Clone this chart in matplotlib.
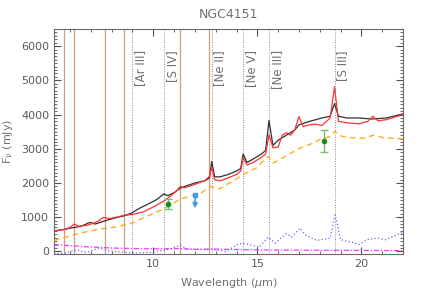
import matplotlib
matplotlib.use("Agg")
import matplotlib.pyplot as plt
from matplotlib.ticker import MultipleLocator

# ---------------- data ----------------
obs_w = [5.23, 5.5, 5.7, 6.0, 6.2, 6.5, 6.96, 7.2, 7.5, 7.84, 8.0, 8.3, 8.6, 8.96, 9.3, 9.6, 9.9,
         10.2, 10.5, 10.7, 11.0, 11.3, 11.6, 12.0, 12.5, 12.7, 12.81, 12.95, 13.2, 13.6, 14.0,
         14.2, 14.32, 14.5, 14.8, 15.2, 15.4, 15.56, 15.75, 16.0, 16.4, 16.8, 17.0, 17.5, 18.1,
         18.5, 18.71, 18.9, 19.3, 19.9, 20.5, 21.2, 22.0]
obs_f = [600, 620, 640, 680, 700, 730, 850, 800, 860, 925, 950, 1000, 1040, 1120, 1250, 1340, 1430,
         1530, 1680, 1630, 1720, 1850, 1920, 2000, 2070, 2150, 2630, 2180, 2180, 2250, 2350,
         2420, 2850, 2600, 2700, 2850, 2950, 3830, 3100, 3250, 3400, 3550, 3700, 3800, 3900,
         3950, 4320, 3950, 3900, 3900, 3870, 3900, 4020]

mod_w = [5.23, 5.7, 6.0, 6.2, 6.4, 6.8, 7.1, 7.4, 7.6, 7.9, 8.3, 8.6, 9.0, 9.5, 10.0, 10.5, 10.8,
         11.1, 11.3, 11.5, 12.0, 12.5, 12.7, 12.81, 12.95, 13.2, 13.6, 14.0, 14.2, 14.32, 14.5,
         14.8, 15.2, 15.4, 15.56, 15.75, 16.0, 16.2, 16.4, 16.6, 16.8, 17.0, 17.2, 17.5, 17.8,
         18.1, 18.5, 18.71, 18.9, 19.3, 19.9, 20.3, 20.55, 20.8, 21.2, 22.0]
mod_f = [600, 640, 700, 800, 740, 760, 820, 900, 995, 960, 1010, 1060, 1080, 1150, 1300, 1470, 1600,
         1760, 1900, 1860, 1960, 2080, 2200, 2450, 2100, 2060, 2150, 2250, 2350, 2740, 2530,
         2600, 2750, 2850, 3410, 3030, 3050, 3400, 3470, 3400, 3550, 3940, 3650, 3700, 3720,
         3680, 3900, 4810, 3800, 3760, 3730, 3800, 3950, 3820, 3850, 4000]

cont_w = [5.23, 5.7, 6.3, 7.4, 8.2, 9.0, 9.5, 10.5, 11.3, 12.3, 12.75, 13.2, 13.8, 14.3, 14.95,
          15.53, 15.77, 16.4, 17.05, 17.7, 18.0, 18.5, 18.74, 19.0, 19.3, 20.1, 20.6, 21.0,
          21.4, 22.0]
cont_f = [320, 400, 510, 655, 715, 830, 975, 1240, 1530, 1710, 1900, 1830, 2050, 2240, 2440,
          2780, 2585, 2800, 3020, 3170, 3270, 3360, 3510, 3380, 3330, 3310, 3400, 3330,
          3310, 3290]

res_w = [5.23, 5.8, 6.3, 6.8, 7.4, 7.8, 8.7, 9.0, 9.85, 10.8, 11.3, 11.6, 12.6, 12.8, 13.5,
         14.0, 14.3, 15.1, 15.53, 15.85, 16.4, 16.65, 17.05, 17.3, 17.85, 18.5, 18.74, 19.0,
         19.6, 19.86, 20.26, 20.8, 21.15, 21.9, 22.0]
res_f = [-67, -45, 50, -30, 100, 20, -30, -50, -30, 70, 180, 70, 50, 60, 0,
         195, 245, 128, 420, 245, 518, 420, 680, 490, 322, 390, 1073, 342,
         263, 196, 342, 390, 342, 538, 560]

star_w = [5.23, 6.0, 7.0, 8.0, 10.0, 11.3, 12.0, 12.8, 15.0, 18.0, 22.0]
star_f = [200, 170, 130, 100, 75, 85, 60, 70, 45, 35, 25]

phot_w = [10.72, 18.18]
phot_f = [1395, 3230]
phot_lo = [150, 330]
phot_hi = [140, 310]

ulim_w = [12.01]
ulim_f = [1640]

pah_w = [5.7, 6.2, 7.7, 8.6, 11.3, 12.7]
line_w = [8.99, 10.51, 12.81, 14.32, 15.56, 18.71]
line_names = ["[Ar III]", "[S IV]", "[Ne II]", "[Ne V]", "[Ne III]", "[S III]"]

# ---------------- figure ----------------
fig = plt.figure(figsize=(4.36, 2.91), dpi=100)
ax = fig.add_axes([0.1239, 0.1271, 0.8004, 0.7732])
txtc = "#5a5a5a"

for w in pah_w:
    ax.axvline(w, color="#c99f86", lw=0.9, zorder=1)
for w, n in zip(line_w, line_names):
    ax.axvline(w, color="#8a8a8a", lw=0.7, ls=(0, (1, 1.5)), zorder=1)
    ax.text(w + 0.08, 5880, n, rotation=90, ha="left", va="top", fontsize=8.5, color="#707070")

ax.plot(star_w, star_f, color="#ff33ff", lw=0.9, ls=(0, (4, 1.5, 1, 1.5)), zorder=2)
ax.plot(res_w, res_f, color="#6666ff", lw=0.9, ls=(0, (1, 1.8)), zorder=2)
ax.plot(cont_w, cont_f, color="#ffaa22", lw=1.0, ls=(0, (4, 3)), zorder=3)
ax.plot(obs_w, obs_f, color="#303030", lw=0.9, zorder=4)
ax.plot(mod_w, mod_f, color="#ff3333", lw=0.9, zorder=5)

ax.errorbar(phot_w, phot_f, yerr=[phot_lo, phot_hi], fmt="o", ms=3, color="#1a8a1a",
            ecolor="#77bb77", elinewidth=1.0, capsize=3, capthick=1.0, zorder=6)
for w, f in zip(ulim_w, ulim_f):
    ax.annotate("", xy=(w, f - 380), xytext=(w, f),
                arrowprops=dict(arrowstyle="-|>", color="#4499ee", lw=1.2,
                                mutation_scale=7, shrinkA=0, shrinkB=0), zorder=6)
ax.plot(ulim_w, ulim_f, "s", ms=3.5, color="#4499ee", zorder=7)

ax.set_xlim(5.23, 22.0)
ax.set_ylim(-75, 6500)
ax.xaxis.set_major_locator(MultipleLocator(5))
ax.xaxis.set_minor_locator(MultipleLocator(1))
ax.yaxis.set_major_locator(MultipleLocator(1000))
ax.yaxis.set_minor_locator(MultipleLocator(100))
ax.tick_params(which="both", direction="in", top=True, right=True, colors="#5a4a4a",
               labelcolor=txtc, labelsize=8)
ax.tick_params(which="major", length=5, width=0.8)
ax.tick_params(which="minor", length=2.5, width=0.6)
for s in ax.spines.values():
    s.set_color("#6a6a6a")
    s.set_linewidth(0.8)

ax.set_title("NGC4151", fontsize=9, color="#707070", pad=8)
ax.set_xlabel("Wavelength ($\\mu$m)", fontsize=8, color="#707070", labelpad=5)
ax.set_ylabel("F$_\\nu$ (mJy)", fontsize=8, color="#707070", labelpad=4)

fig.savefig("out.png", dpi=100)
